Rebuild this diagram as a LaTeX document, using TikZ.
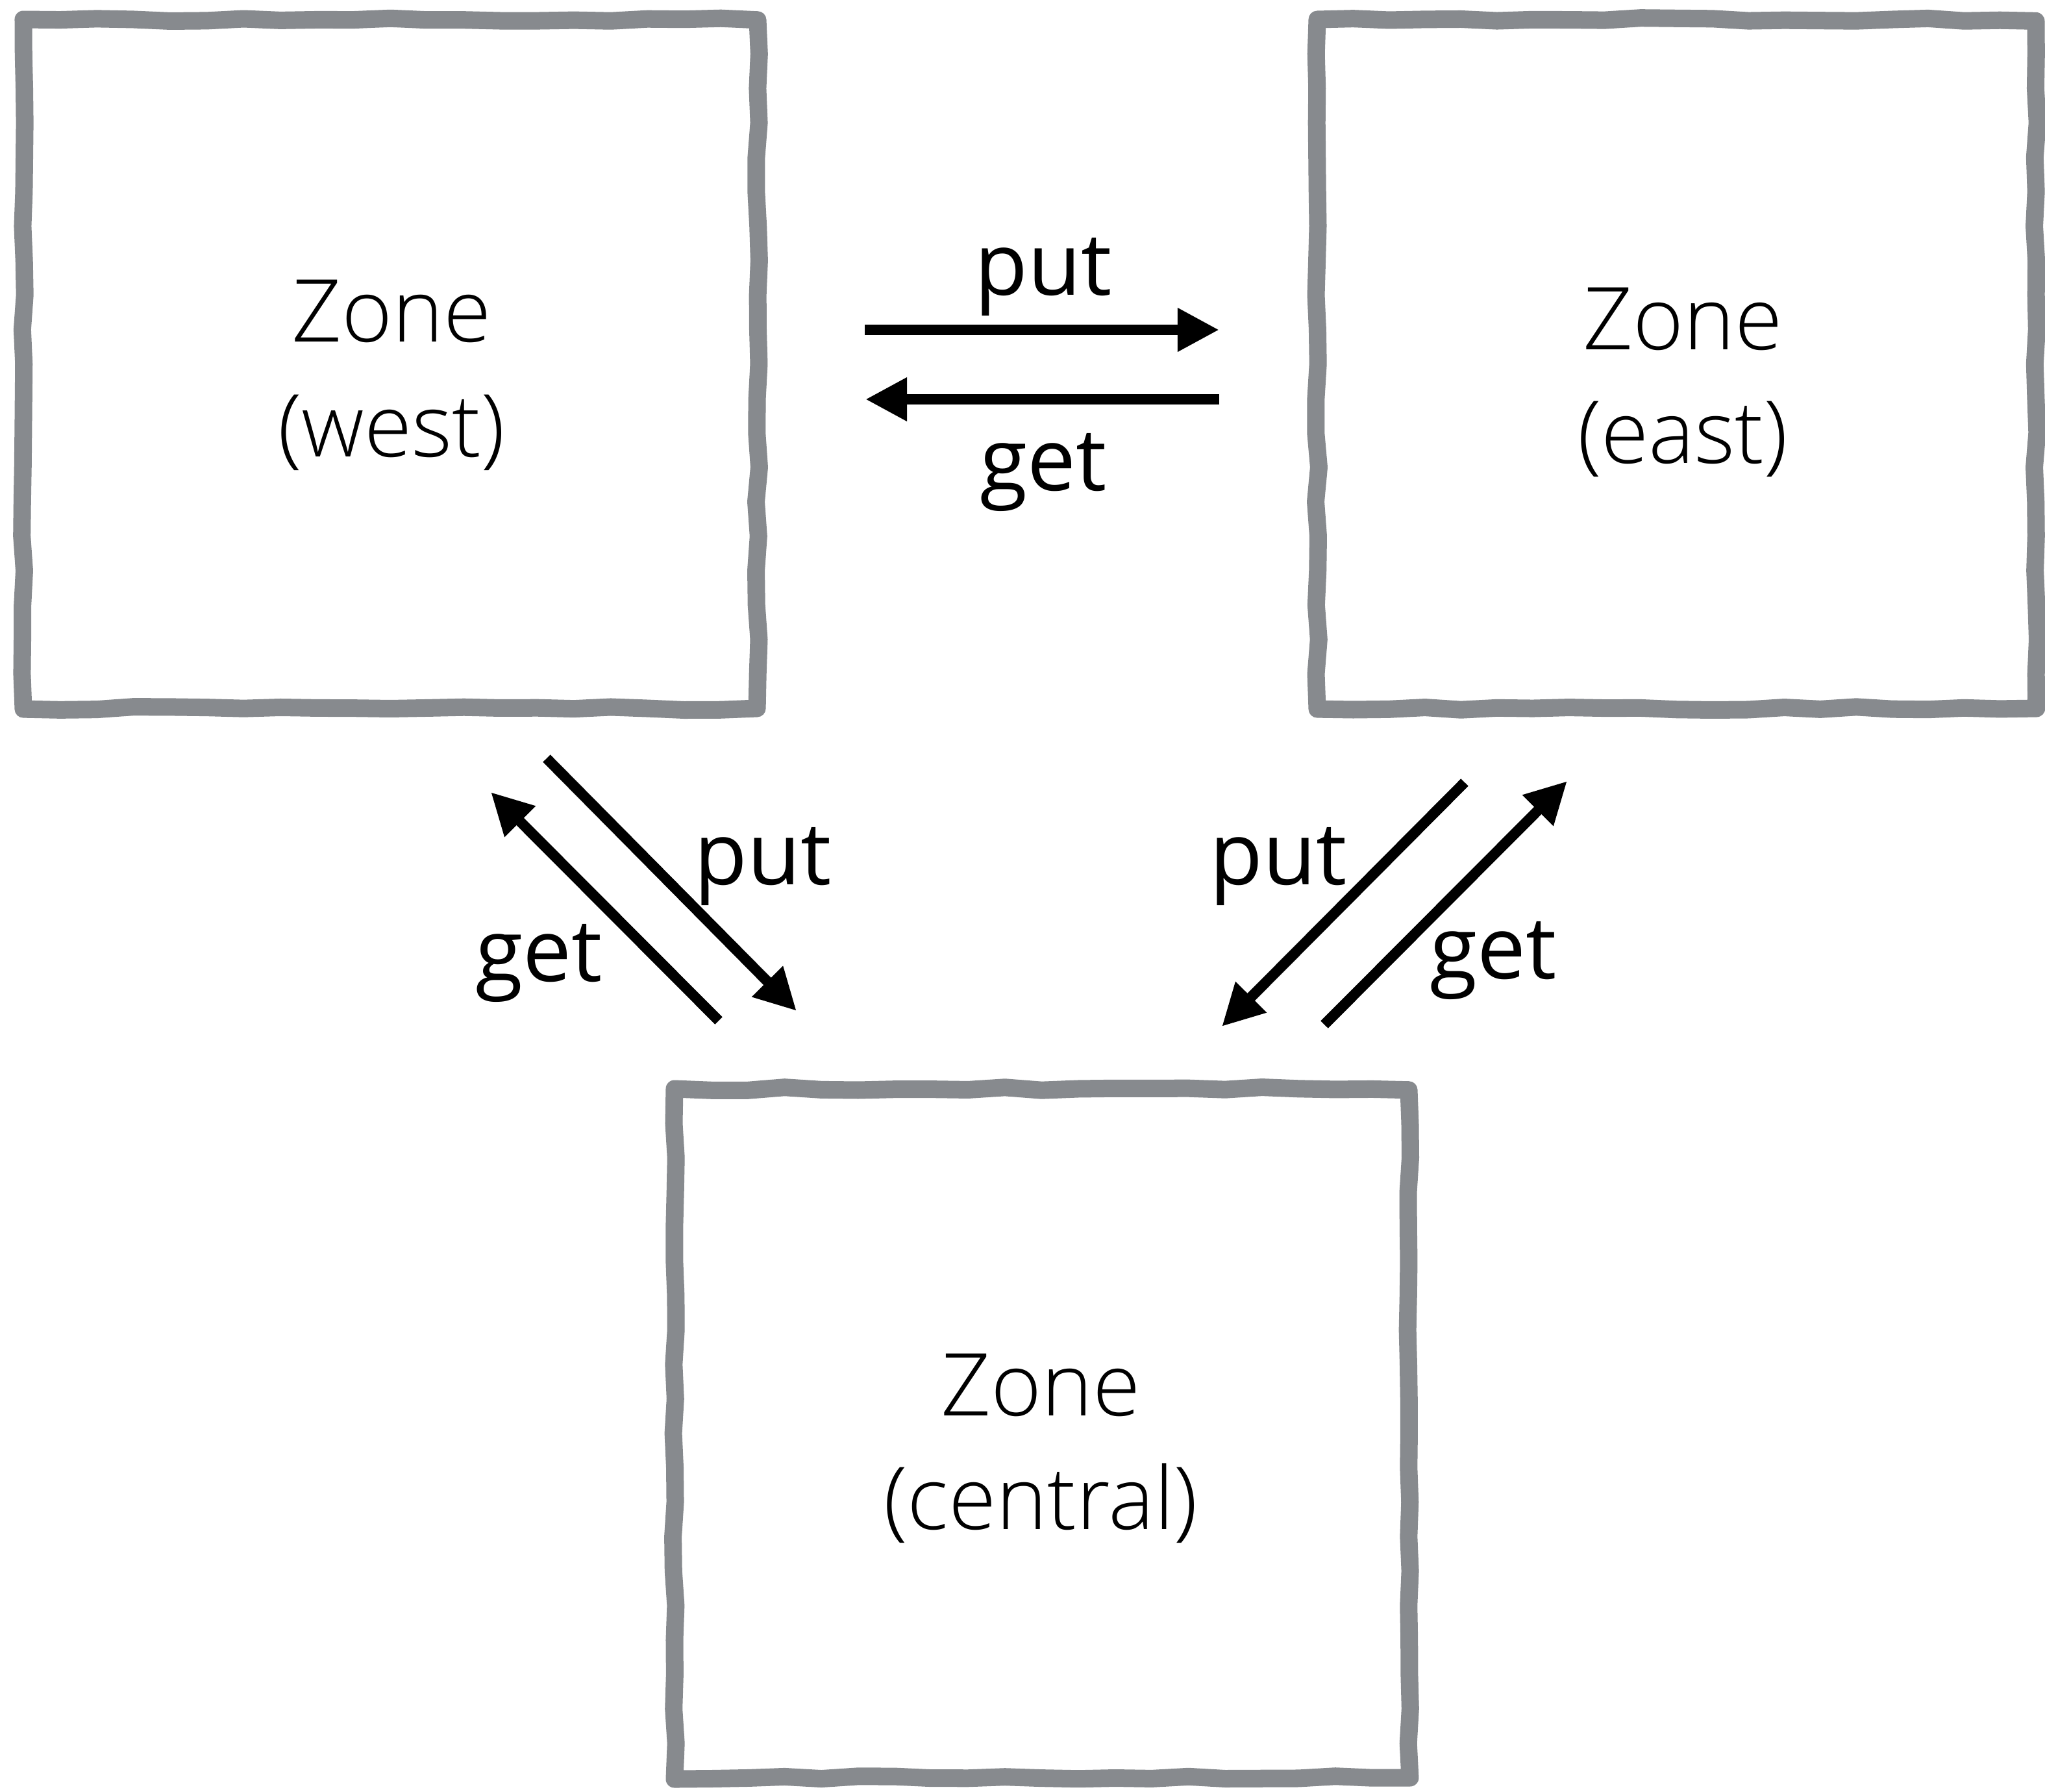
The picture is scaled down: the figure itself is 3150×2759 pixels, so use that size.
\documentclass[tikz,border=0pt]{standalone}
\usepackage{fontspec}
\setmainfont{Open Sans}
\newfontfamily\zonefont{Open Sans Light}
\usetikzlibrary{arrows.meta}
\definecolor{zonegray}{HTML}{878A8E}
\tikzset{
  zonebox/.style={draw=zonegray, line width=0.27cm, line join=round, line cap=round},
  zonetext/.style={font=\zonefont\fontsize{38}{46}\selectfont, anchor=base, inner sep=0pt},
  optext/.style={font=\fontsize{38}{46}\selectfont, anchor=base, inner sep=0pt},
  flow/.style={line width=0.16cm, -{Triangle[length=0.64cm,width=0.63cm]}}
}
\newcommand\wobblybox[4]{%
  \draw[zonebox] (#1,#2)
    foreach \i in {1,...,20} { -- ({#1+(\i/20)*(#3-#1)},{#2+2.5*rand}) }
    foreach \i in {1,...,20} { -- ({#3+2.5*rand},{#2+(\i/20)*(#4-#2)}) }
    foreach \i in {1,...,20} { -- ({#3-(\i/20)*(#3-#1)},{#4+2.5*rand}) }
    foreach \i in {1,...,19} { -- ({#1+2.5*rand},{#4-(\i/20)*(#4-#2)}) }
    -- cycle;}
\begin{document}
\begin{tikzpicture}[x=0.01cm,y=-0.01cm]
\useasboundingbox (0,0) rectangle (3150,2759);
\pgfmathsetseed{7}
% boxes
\wobblybox{36}{30}{1167}{1091}
\wobblybox{2029}{30}{3136}{1091}
\wobblybox{1039}{1677}{2170}{2738}
% box texts
\node[zonetext] (westA) at (603,526) {Zone};
\node[zonetext] (westB) at (603,703) {(west)};
\node[zonetext] (eastA) at (2592,538) {Zone};
\node[zonetext] (eastB) at (2592,713) {(east)};
\node[zonetext] (centralA) at (1603,2180) {Zone};
\node[zonetext] (centralB) at (1603,2355) {(central)};
% arrow end points
\coordinate (wePutS) at (1332,508);
\coordinate (wePutE) at (1878,508);
\coordinate (ewGetS) at (1878,615);
\coordinate (ewGetE) at (1333,615);
\coordinate (wcPutS) at (842,1168);
\coordinate (wcPutE) at (1227,1557);
\coordinate (cwGetS) at (1107,1572);
\coordinate (cwGetE) at (756,1220);
\coordinate (ecPutS) at (2256,1205);
\coordinate (ecPutE) at (1882,1581);
\coordinate (ceGetS) at (2040,1578);
\coordinate (ceGetE) at (2414,1203);
% arrows
\draw[flow] (wePutS) -- (wePutE);
\draw[flow] (ewGetS) -- (ewGetE);
\draw[flow] (wcPutS) -- (wcPutE);
\draw[flow] (cwGetS) -- (cwGetE);
\draw[flow] (ecPutS) -- (ecPutE);
\draw[flow] (ceGetS) -- (ceGetE);
% labels
\node[optext] (lput1) at (1607,454) {put};
\node[optext] (lget1) at (1607,755) {get};
\node[optext] (lput2) at (1175,1362) {put};
\node[optext] (lget2) at (830,1511) {get};
\node[optext] (lput3) at (1969,1362) {put};
\node[optext] (lget3) at (2300,1507) {get};
\end{tikzpicture}
\end{document}
